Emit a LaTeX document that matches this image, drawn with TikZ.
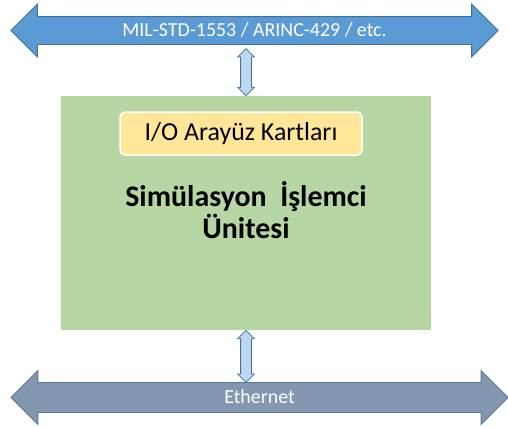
\documentclass[tikz,border=0pt]{standalone}
\usepackage{fontspec}
\setmainfont{Carlito}
\usepackage{tikz}
\usetikzlibrary{shapes,arrows,calc}
\usetikzlibrary{positioning}

\definecolor{busblue}{HTML}{5B9BD5}
\definecolor{busline}{HTML}{41719C}
\definecolor{linkblue}{HTML}{BDD7EE}
\definecolor{cpugreen}{RGB}{182,215,163}
\definecolor{cardyellow}{HTML}{FFE699}
\definecolor{ethgray}{HTML}{8497B0}
\definecolor{ethline}{HTML}{5F7896}

\begin{document}
\begin{tikzpicture}[x=1bp,y=-1bp,line width=0.8bp]
\tikzstyle{bus}=[double arrow, double arrow head extend=12.5bp, inner sep=0pt,
    text=white, font=\fontsize{20}{22}\selectfont]
\tikzstyle{link}=[double arrow, shape border rotate=90, double arrow head extend=3bp,
    inner sep=5bp, fill=linkblue, draw=busline]

\useasboundingbox (0,0) rectangle (508,426);

\node[fill=cpugreen, minimum width=370bp, minimum height=234bp] (cpu) at (246,213) {};

\node[fill=cardyellow, draw=white, line width=1.5bp, rounded corners=5bp,
      minimum width=242bp, minimum height=43bp, font=\fontsize{26}{28}\selectfont]
      (card) at (241,133.5) {I/O Arayüz Kartları};

\node[align=center, font=\bfseries\fontsize{30}{32}\selectfont] (title) at (246,210)
      {Simülasyon \ İşlemci\\Ünitesi};

\node[bus, fill=busblue, draw=busline, minimum height=487bp,
      text height=19.9bp, text depth=7.1bp] (mil) at (254.5,30.5)
      {MIL-STD-1553 / ARINC-429 / etc.};
\node[bus, fill=ethgray, draw=ethline, minimum height=497bp,
      double arrow head extend=12bp, text height=20.9bp, text depth=8.1bp]
      (eth) at (259.5,397.5) {Ethernet};

\node[link, minimum height=47bp] (uplink)   at ($(cpu.north)+(0,-23.5)$) {};
\node[link, minimum height=52bp] (downlink) at ($(cpu.south)+(0,26)$)    {};

\end{tikzpicture}
\end{document}
